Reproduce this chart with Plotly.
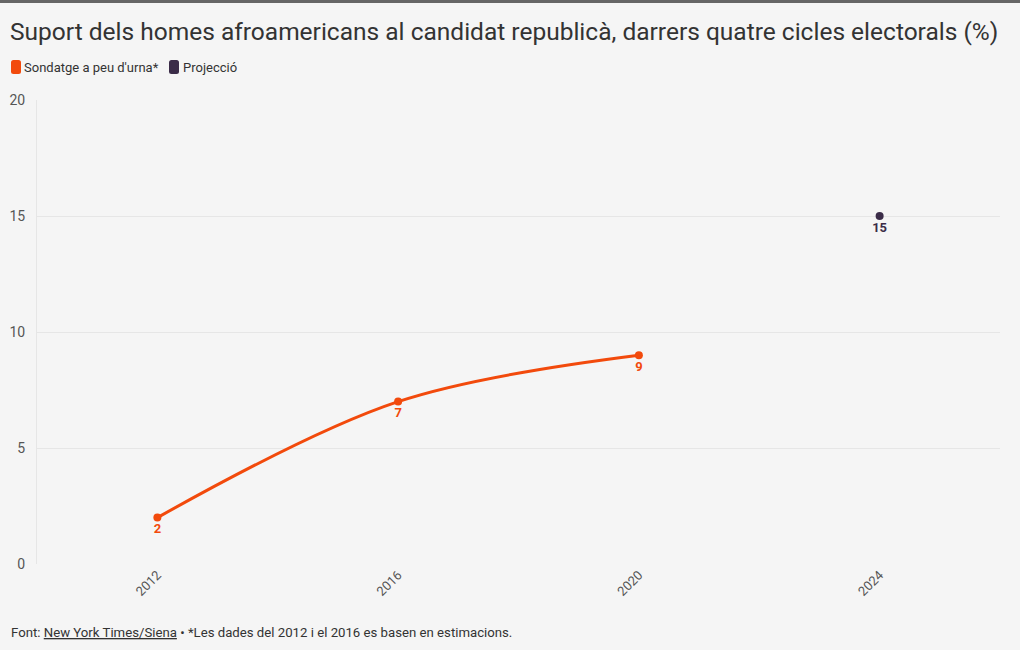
import plotly.graph_objects as go

years = ["2012", "2016", "2020", "2024"]
exit_poll_years = ["2012", "2016", "2020"]
exit_poll_values = [2, 7, 9]
projection_years = ["2024"]
projection_values = [15]
y_ticks = [0, 5, 10, 15, 20]
legend_names = ["Sondatge a peu d'urna*", "Projecció"]

ORANGE = "#f24a0c"
PURPLE = "#3b2c48"
FONT = "Roboto"

W, H = 1020, 650
ML, MR, MT, MB = 37, 20, 100, 86
PW, PH = W - ML - MR, H - MT - MB


def px(x):
    return (x - ML) / PW


def py(y):
    return 1 - (y - MT) / PH


def rounded_rect(x0, y0, x1, y1, r):
    X0, X1 = px(x0), px(x1)
    Y0, Y1 = py(y0), py(y1)
    rx, ry = r / PW, r / PH
    return (f"M {X0+rx},{Y0} L {X1-rx},{Y0} Q {X1},{Y0} {X1},{Y0-ry} "
            f"L {X1},{Y1+ry} Q {X1},{Y1} {X1-rx},{Y1} L {X0+rx},{Y1} "
            f"Q {X0},{Y1} {X0},{Y1+ry} L {X0},{Y0-ry} Q {X0},{Y0} {X0+rx},{Y0} Z")


fig = go.Figure()

fig.add_trace(go.Scatter(
    x=exit_poll_years, y=exit_poll_values, mode="lines+markers+text",
    line=dict(color=ORANGE, width=3, shape="spline", smoothing=1),
    marker=dict(color=ORANGE, size=8),
    texttemplate="<b>%{y}</b>", textposition="bottom center",
    textfont=dict(color=ORANGE, size=13, family=FONT),
    showlegend=False, name=legend_names[0], cliponaxis=False,
))
fig.add_trace(go.Scatter(
    x=projection_years, y=projection_values, mode="markers+text",
    marker=dict(color=PURPLE, size=8),
    texttemplate="<b>%{y}</b>", textposition="bottom center",
    textfont=dict(color=PURPLE, size=13, family=FONT),
    showlegend=False, name=legend_names[1], cliponaxis=False,
))

shapes = [dict(type="rect", xref="paper", yref="paper",
               x0=px(-5), x1=px(W + 5), y0=py(-2), y1=py(3),
               fillcolor="#666666", line=dict(width=0), layer="above")]
shapes.append(dict(type="path", xref="paper", yref="paper", path=rounded_rect(11, 60, 21, 74, 2.5),
                   fillcolor=ORANGE, line=dict(width=0)))
shapes.append(dict(type="path", xref="paper", yref="paper", path=rounded_rect(169, 60, 179, 74, 2.5),
                   fillcolor=PURPLE, line=dict(width=0)))

annotations = [
    dict(text=legend_names[0], xref="paper", yref="paper", x=px(22), xanchor="left",
         y=py(67), yanchor="middle", showarrow=False,
         font=dict(size=13, color="#333333", family=FONT)),
    dict(text=legend_names[1], xref="paper", yref="paper", x=px(181), xanchor="left",
         y=py(67), yanchor="middle", showarrow=False,
         font=dict(size=13, color="#333333", family=FONT)),
    dict(text="Font: <a href='https://www.nytimes.com' style='color:#333333'><u>New York Times/Siena</u></a> • *Les dades del 2012 i el 2016 es basen en estimacions.",
         xref="paper", yref="paper", x=px(9), xanchor="left",
         y=py(632), yanchor="middle", showarrow=False,
         font=dict(size=13.2, color="#333333", family=FONT)),
]

fig.update_layout(
    width=W, height=H,
    margin=dict(l=ML, r=MR, t=MT, b=MB, autoexpand=False),
    paper_bgcolor="#f5f5f5", plot_bgcolor="#f5f5f5",
    font=dict(family=FONT, color="#333333"),
    showlegend=False,
    title=dict(text="Suport dels homes afroamericans al candidat republicà, darrers quatre cicles electorals (%)",
               x=10 / W, xanchor="left", y=1 - 31 / H, yanchor="middle",
               font=dict(size=24.5, color="#333333", family=FONT)),
    xaxis=dict(type="category", categoryorder="array", categoryarray=years,
               range=[-0.5, 3.5], showgrid=False, tickangle=-45, automargin=False,
               tickfont=dict(size=13, color="#555555"), ticks="", zeroline=False,
               showline=False),
    yaxis=dict(range=[0, 20], tickvals=y_ticks, showgrid=True, gridcolor="#e6e6e6", gridwidth=1,
               tickfont=dict(size=14, color="#555555"), ticks="", zeroline=False, automargin=False,
               showline=True, linecolor="#e6e6e6", linewidth=1, ticklabelstandoff=8),
    shapes=shapes,
    annotations=annotations,
)

fig.write_html("out.html", config={"displayModeBar": False},
               post_script="document.body.style.margin='0';document.body.style.background='#f5f5f5';")
